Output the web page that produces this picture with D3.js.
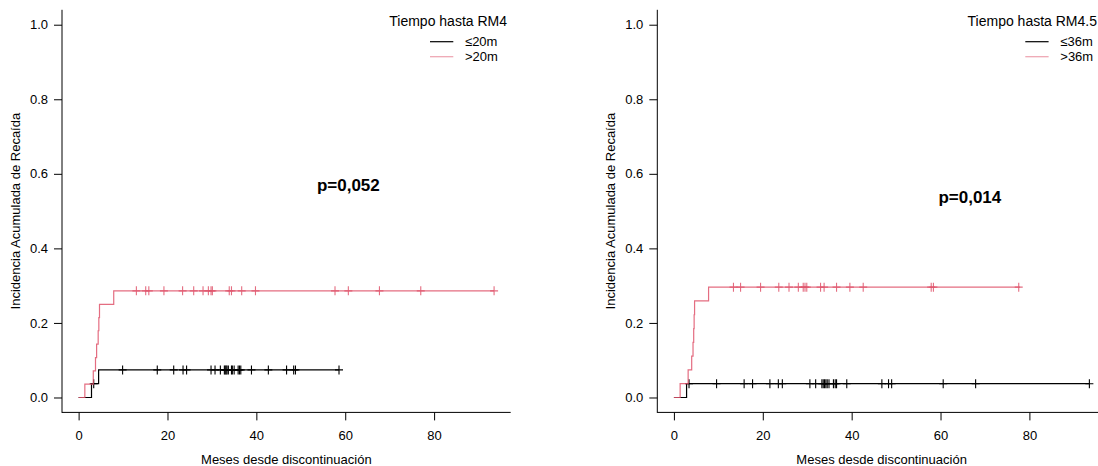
<!DOCTYPE html>
<html>
<head>
<meta charset="utf-8">
<script src="https://cdn.jsdelivr.net/npm/d3@7"></script>
<style>
  html, body { margin: 0; padding: 0; background: #fff; }
  svg { display: block; font-family: "Liberation Sans", Arial, Helvetica, sans-serif; }
</style>
</head>
<body>
<svg id="chart" width="1098" height="466"></svg>
<script>
// ---------- data ----------
const xTicks = [0, 20, 40, 60, 80];
const yTicks = [0, 0.2, 0.4, 0.6, 0.8, 1.0];
const xTitle = "Meses desde discontinuación";
const yTitle = "Incidencia Acumulada de Recaída";

// Panel 1: Tiempo hasta RM4
const p1LegendTitle = "Tiempo hasta RM4";
const p1Labels = ["≤20m", ">20m"];
const p1PValue = "p=0,052";
const p1LowTimes  = [0, 2.9, 4.5];
const p1LowValues = [0, 0.037, 0.074];
const p1LowEnd = 58.6;
const p1LowCensor = [3.4, 9.9, 17.7, 21.4, 23.5, 24.3, 29.8, 30.7, 31.9, 32.8, 33.0, 33.2, 33.4, 33.7,
  34.4, 34.6, 35.0, 35.9, 36.2, 36.5, 38.9, 42.7, 46.8, 48.4, 48.8, 58.6];
const p1HighTimes  = [0, 1.4, 3.3, 3.8, 4.05, 4.4, 4.55, 4.7, 7.9];
const p1HighValues = [0, 0.0357, 0.0714, 0.107, 0.143, 0.179, 0.214, 0.25, 0.286];
const p1HighEnd = 93.5;
const p1HighCensor = [13.0, 15.1, 15.8, 19.2, 23.4, 25.9, 28.0, 29.2, 29.8, 30.1, 33.9, 34.4, 36.7,
  39.8, 57.7, 60.7, 67.7, 77.0, 93.5];

// Panel 2: Tiempo hasta RM4.5
const p2LegendTitle = "Tiempo hasta RM4.5";
const p2Labels = ["≤36m", ">36m"];
const p2PValue = "p=0,014";
const p2LowTimes  = [0, 2.85];
const p2LowValues = [0, 0.037];
const p2LowEnd = 93.5;
const p2LowCensor = [3.4, 9.6, 15.8, 17.7, 21.6, 23.5, 24.4, 30.6, 31.9, 33.3, 33.6, 33.9, 34.2, 34.5,
  34.9, 35.9, 36.3, 36.6, 38.9, 46.8, 48.3, 49.0, 60.6, 67.9, 93.5];
const p2HighTimes  = [0, 1.4, 3.2, 4.0, 4.3, 4.45, 4.55, 4.65, 7.8];
const p2HighValues = [0, 0.037, 0.074, 0.111, 0.148, 0.185, 0.222, 0.259, 0.296];
const p2HighEnd = 77.9;
const p2HighCensor = [13.4, 15.0, 19.5, 23.6, 25.9, 28.0, 29.1, 29.5, 29.9, 33.0, 33.8, 36.6, 39.6,
  42.6, 57.9, 58.4, 77.6];

// ---------- drawing ----------
const RED = "#DF536B";
const FS = 13;
const svg = d3.select("#chart");
const fmt = d3.format(".1f");

const panels = [
  { x0: 62,    legendTitle: p1LegendTitle, labels: p1Labels, pval: p1PValue, pPos: [60.7, 0.57],
    series: [
      { t: p1LowTimes, v: p1LowValues, end: p1LowEnd, c: p1LowCensor, color: "#000", op: 1 },
      { t: p1HighTimes, v: p1HighValues, end: p1HighEnd, c: p1HighCensor, color: RED, op: 0.85 }
    ] },
  { x0: 657.3, legendTitle: p2LegendTitle, labels: p2Labels, pval: p2PValue, pPos: [66.6, 0.537],
    series: [
      { t: p2LowTimes, v: p2LowValues, end: p2LowEnd, c: p2LowCensor, color: "#000", op: 1 },
      { t: p2HighTimes, v: p2HighValues, end: p2HighEnd, c: p2HighCensor, color: RED, op: 0.85 }
    ] }
];

const plotW = 448.7;
const y = d3.scaleLinear().domain([-0.04, 1.04]).range([412.4, 9.8]);

panels.forEach(p => {
  const x = d3.scaleLinear().domain([-3.74, 97.24]).range([p.x0, p.x0 + plotW]);
  const g = svg.append("g");

  // L-shaped box
  g.append("line").attr("x1", p.x0).attr("x2", p.x0).attr("y1", y.range()[1]).attr("y2", y.range()[0] + 0.5)
    .attr("stroke", "#000").attr("stroke-width", 1);
  g.append("line").attr("x1", p.x0).attr("x2", p.x0 + plotW).attr("y1", y.range()[0]).attr("y2", y.range()[0])
    .attr("stroke", "#000").attr("stroke-width", 1);

  // y axis
  const ya = g.append("g").attr("transform", `translate(${p.x0},0)`)
    .call(d3.axisLeft(y).tickValues(yTicks).tickFormat(fmt).tickSize(8).tickPadding(6));
  ya.select(".domain").remove();
  ya.selectAll("text").attr("font-size", FS).attr("font-family", "Liberation Sans, Arial, sans-serif").attr("fill", "#000");
  ya.selectAll("line").attr("stroke", "#000");

  // x axis
  const xa = g.append("g").attr("transform", `translate(0,${y.range()[0]})`)
    .call(d3.axisBottom(x).tickValues(xTicks).tickFormat(d3.format("d")).tickSize(8).tickPadding(10));
  xa.select(".domain").remove();
  xa.selectAll("text").attr("font-size", FS).attr("font-family", "Liberation Sans, Arial, sans-serif").attr("fill", "#000");
  xa.selectAll("line").attr("stroke", "#000");

  // titles
  g.append("text").attr("x", p.x0 + plotW / 2).attr("y", 463.5).attr("text-anchor", "middle")
    .attr("font-size", FS).text(xTitle);
  g.append("text").attr("transform", `translate(${p.x0 - 42.3},${(y(0) + y(1)) / 2}) rotate(-90)`)
    .attr("text-anchor", "middle").attr("font-size", FS).text(yTitle);

  // curves
  const line = d3.line().x(d => x(d[0])).y(d => y(d[1])).curve(d3.curveStepAfter);
  p.series.forEach(s => {
    const pts = s.t.map((t, i) => [t, s.v[i]]);
    pts.push([s.end, s.v[s.v.length - 1]]);
    g.append("path").attr("d", line(pts)).attr("fill", "none")
      .attr("stroke", s.color).attr("stroke-opacity", s.op).attr("stroke-width", 1.2);
    const valAt = t => { let v = 0; s.t.forEach((tt, i) => { if (tt <= t) v = s.v[i]; }); return v; };
    g.append("g").selectAll("path").data(s.c).join("path")
      .attr("d", t => { const cx = x(t), cy = y(valAt(t)); return `M${cx - 4},${cy}H${cx + 4}M${cx},${cy - 4.5}V${cy + 4.5}`; })
      .attr("stroke", s.color).attr("stroke-opacity", s.op).attr("stroke-width", 1.1).attr("fill", "none");
  });

  // p value
  g.append("text").attr("x", x(p.pPos[0])).attr("y", y(p.pPos[1]) + 6).attr("text-anchor", "middle")
    .attr("font-size", 17).attr("font-weight", "bold").text(p.pval);

  // legend
  const lx = p.x0 + 368;
  g.append("text").attr("x", Math.min(p.x0 + 445, 1097)).attr("y", 25.5).attr("text-anchor", "end")
    .attr("font-size", 14).text(p.legendTitle);
  const legColors = [["#000", 1], [RED, 0.55]];
  p.labels.forEach((lab, i) => {
    const ly = 41.7 + i * 15;
    g.append("line").attr("x1", lx).attr("x2", lx + 23.3).attr("y1", ly).attr("y2", ly)
      .attr("stroke", legColors[i][0]).attr("stroke-opacity", legColors[i][1]).attr("stroke-width", 1.2);
    g.append("text").attr("x", lx + 35).attr("y", ly + 4.5).attr("font-size", FS).text(lab);
  });
});
</script>
</body>
</html>
